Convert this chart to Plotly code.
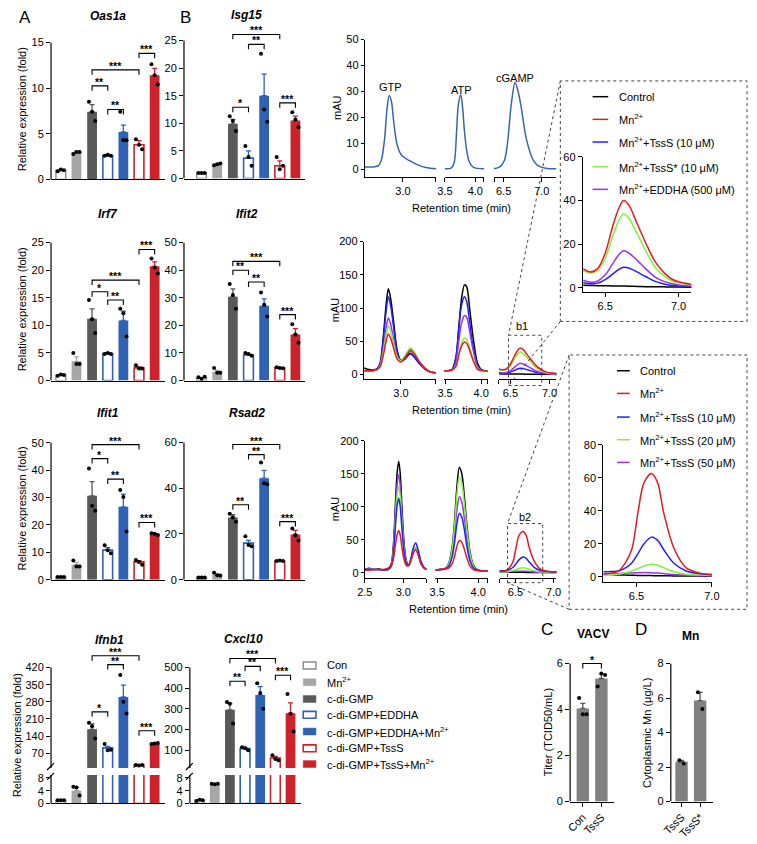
import plotly.graph_objects as go

W, H = 757, 844
FONT = "Liberation Sans, Arial, Helvetica, sans-serif"

# ---------------------------------------------------------------- data: qPCR bars
GROUPS = ["Con", "Mn<sup>2+</sup>", "c-di-GMP", "c-di-GMP+EDDHA",
          "c-di-GMP+EDDHA+Mn<sup>2+</sup>", "c-di-GMP+TssS", "c-di-GMP+TssS+Mn<sup>2+</sup>"]

OAS1A_MEAN = [1.0, 3.0, 7.4, 2.6, 5.2, 3.8, 11.4]
OAS1A_SEM = [0.1, 0.1, 0.8, 0.05, 0.75, 0.45, 0.75]
OAS1A_PTS = [[0.9, 1.1, 1.0], [2.8, 3.0, 3.0], [8.5, 7.4, 6.4], [2.6, 2.7, 2.6], [7.4, 4.3, 4.3], [4.4, 3.8, 3.3], [12.6, 11.4, 10.4]]
OAS1A_SIG = [(2, 5, 12.0, "***"), (2, 3, 10.25, "**"), (3, 4, 7.66, "**"), (5, 6, 13.8, "***")]

ISG15_MEAN = [1.0, 2.6, 9.9, 3.7, 15.0, 2.3, 10.5]
ISG15_SEM = [0.05, 0.1, 0.8, 1.3, 3.9, 0.9, 0.8]
ISG15_PTS = [[1.0, 1.0, 1.0], [2.4, 2.6, 2.7], [11.3, 10.4, 8.6], [5.9, 3.9, 2.3], [22.6, 12.5, 10.3], [3.9, 1.7, 2.3], [12.0, 10.7, 9.3]]
ISG15_SIG = [(2, 5, 26.1, "***"), (3, 4, 24.3, "**"), (2, 3, 12.9, "*"), (5, 6, 13.7, "***")]

IRF7_MEAN = [1.0, 3.5, 11.2, 4.9, 10.9, 2.3, 20.7]
IRF7_SEM = [0.1, 0.8, 1.8, 0.1, 1.7, 0.2, 0.8]
IRF7_PTS = [[0.9, 1.1, 1.0], [5.0, 3.0, 3.0], [14.6, 11.1, 8.6], [4.8, 5.0, 4.8], [13.0, 12.2, 8.0], [2.8, 2.2, 2.2], [22.1, 20.5, 19.4]]
IRF7_SIG = [(5, 6, 23.75, "***"), (2, 5, 18.2, "***"), (2, 3, 16.1, "*"), (3, 4, 14.6, "**")]

IFIT2_MEAN = [1.0, 3.2, 30.4, 9.3, 27.1, 4.6, 16.7]
IFIT2_SEM = [0.2, 0.5, 2.8, 0.3, 2.5, 0.1, 2.1]
IFIT2_PTS = [[1.2, 0.6, 1.4], [4.6, 2.8, 2.8], [35.0, 31.0, 26.0], [10.0, 9.6, 9.0], [31.9, 27.5, 23.2], [4.8, 4.6, 4.5], [20.4, 16.7, 13.7]]
IFIT2_SIG = [(2, 5, 43.2, "***"), (2, 3, 40.0, "**"), (3, 4, 35.7, "**"), (5, 6, 23.9, "***")]

IFIT1_MEAN = [1.0, 5.5, 30.6, 10.8, 26.6, 6.5, 16.6]
IFIT1_SEM = [0.1, 0.8, 5.2, 0.9, 4.6, 0.5, 0.2]
IFIT1_PTS = [[1.0, 1.0, 1.0], [7.0, 4.8, 4.8], [40.6, 27.0, 25.2], [12.6, 10.8, 9.7], [32.7, 30.2, 17.6], [7.2, 6.5, 5.5], [17.0, 16.8, 16.3]]
IFIT1_SIG = [(2, 5, 49.3, "***"), (2, 3, 44.2, "*"), (3, 4, 36.7, "**"), (5, 6, 20.9, "***")]

RSAD2_MEAN = [1.0, 2.2, 27.2, 16.0, 44.4, 8.2, 19.8]
RSAD2_SEM = [0.1, 0.4, 1.2, 1.2, 3.4, 0.1, 1.8]
RSAD2_PTS = [[1.0, 1.0, 1.0], [3.0, 2.0, 1.8], [28.9, 27.2, 25.4], [19.0, 15.2, 14.6], [51.3, 42.2, 41.8], [8.2, 8.4, 8.2], [22.4, 19.4, 17.2]]
RSAD2_SIG = [(2, 5, 59.1, "***"), (3, 4, 54.7, "**"), (2, 3, 32.8, "**"), (5, 6, 25.4, "***")]

IFNB1_MEAN = [1.0, 4.0, 168, 92, 300, 22, 110]
IFNB1_SEM = [0.1, 1.0, 22, 6, 48, 1.5, 3]
IFNB1_PTS = [[1.0, 1.0, 1.0], [5.2, 5.0, 2.5], [195, 180, 130], [108, 82, 85], [390, 280, 232], [22, 20, 22], [108, 110, 112]]
IFNB1_SIG = [(2, 5, 468, "***"), (3, 4, 432, "**"), (2, 3, 239, "*"), (5, 6, 162, "***")]

CXCL10_MEAN = [1.0, 6.1, 295, 108, 367, 62, 279]
CXCL10_SEM = [0.1, 0.1, 30, 5, 40, 8, 50]
CXCL10_PTS = [[0.8, 1.2, 1.0], [6.2, 6.0, 6.2], [333, 324, 229], [114, 110, 100], [424, 376, 300], [76, 57, 52], [371, 276, 190]]
CXCL10_SIG = [(2, 5, 543, "***"), (3, 4, 505, "**"), (2, 3, 433, "**"), (5, 6, 462, "***")]

# ---------------------------------------------------------------- data: panel C / D
C_GROUPS = ["Con", "TssS"]
C_MEAN = [4.05, 5.35]
C_SEM = [0.22, 0.2]
C_PTS = [[4.5, 3.8, 3.8], [5.0, 5.57, 5.5]]
D_GROUPS = ["TssS", "TssS*"]
D_MEAN = [2.3, 5.85]
D_SEM = [0.08, 0.48]
D_PTS = [[2.4, 2.2], [6.33, 5.37]]

# ---------------------------------------------------------------- data: HPLC traces (min, mAU)
TOP_GTP_T = [2.5, 2.62, 2.68, 2.72, 2.76, 2.79, 2.82, 2.85, 2.88, 2.92, 2.96, 3.0, 3.08, 3.18, 3.3, 3.44]
TOP_GTP_Y = [1, 1, 1.5, 4, 12, 23, 28.5, 26, 18, 10, 6.5, 5, 3.5, 2, 0.8, 0.3]
TOP_ATP_T = [3.5, 3.6, 3.65, 3.69, 3.72, 3.76, 3.79, 3.82, 3.86, 3.9, 3.97, 4.15]
TOP_ATP_Y = [0.3, 0.5, 2.5, 14, 25, 28.8, 24, 15, 7, 3, 0.8, 0.3]
TOP_CGAMP_T = [6.37, 6.45, 6.51, 6.55, 6.6, 6.65, 6.69, 6.73, 6.8, 6.89, 6.95, 7.05, 7.19]
TOP_CGAMP_Y = [0.3, 1, 3.5, 10, 25, 33.5, 30, 24, 11.5, 3.5, 1.5, 0.5, 0.3]

MID_T1 = [2.5, 2.55, 2.62, 2.68, 2.72, 2.76, 2.8, 2.83, 2.86, 2.9, 2.95, 3.0, 3.05, 3.1, 3.13, 3.18, 3.25, 3.33, 3.4, 3.47]
MID_CONTROL_1 = [10, 8, 7, 9, 18, 55, 105, 129, 115, 80, 36, 21, 24, 31, 32, 27, 17, 8, 4, 3]
MID_MN_1 = [6, 6, 6, 8, 12, 28, 50, 61, 55, 40, 23, 19, 25, 33, 36, 31, 19, 9, 4, 3]
MID_TSSS_1 = [6, 6, 6, 8, 16, 50, 95, 117, 104, 72, 33, 20, 23, 29, 31, 26, 16, 8, 4, 3]
MID_TSSSX_1 = [6, 6, 6, 8, 13, 33, 60, 73, 66, 47, 26, 21, 28, 37, 40, 34, 20, 10, 4, 3]
MID_EDDHA_1 = [6, 6, 6, 8, 14, 38, 70, 85, 76, 54, 28, 21, 26, 35, 38, 32, 19, 9, 4, 3]

MID_T2 = [3.49, 3.55, 3.6, 3.65, 3.69, 3.73, 3.77, 3.8, 3.84, 3.87, 3.91, 3.95, 4.0, 4.095]
MID_CONTROL_2 = [6, 6, 8, 25, 70, 115, 135, 132, 100, 72, 40, 17, 8, 5]
MID_MN_2 = [6, 6, 7, 12, 29, 43, 49, 47, 37, 27, 16, 8, 6, 5]
MID_TSSS_2 = [6, 6, 8, 25, 68, 105, 117, 110, 80, 55, 30, 13, 7, 5]
MID_TSSSX_2 = [6, 6, 7, 13, 32, 48, 55, 53, 41, 30, 18, 9, 6, 5]
MID_EDDHA_2 = [6, 6, 7, 18, 50, 78, 89, 86, 66, 47, 27, 12, 7, 5]

B1_T = [6.35, 6.40, 6.45, 6.5, 6.55, 6.59, 6.625, 6.66, 6.72, 6.78, 6.84, 6.9, 6.95, 7.0, 7.1]
B1_CONTROL = [1.2, 1.1, 1.0, 1.0, 0.9, 0.9, 0.9, 0.8, 0.7, 0.6, 0.6, 0.5, 0.4, 0.4, 0.3]
B1_MN = [8.7, 7.3, 9, 16, 28, 36, 40, 38, 29, 20, 12, 7, 4.2, 2.8, 1.5]
B1_TSSS = [2.4, 1.9, 2.2, 3.8, 6.3, 8.4, 9.5, 9.1, 7.2, 5, 3, 1.8, 1.2, 0.9, 0.6]
B1_TSSSX = [7.8, 6.8, 8, 13.5, 23.5, 30.5, 34, 32, 24.5, 16.5, 9.5, 5.5, 3.3, 2.2, 1.2]
B1_EDDHA = [3.5, 2.6, 3.2, 6, 11, 15, 17, 16, 12.5, 8.5, 5, 3, 2, 1.4, 1]

BOT_T1 = [2.5, 2.56, 2.62, 2.68, 2.74, 2.8, 2.84, 2.87, 2.9, 2.92, 2.94, 2.96, 2.98, 3.01, 3.04, 3.07, 3.1, 3.13, 3.16, 3.19, 3.23, 3.27, 3.31]
BOT_CONTROL_1 = [5, 7, 5, 6, 4, 6, 12, 40, 110, 152, 169, 150, 105, 45, 18, 12, 20, 33, 38, 30, 15, 7, 5]
BOT_MN_1 = [4, 4, 5, 5, 5, 7, 10, 20, 44, 58, 64, 57, 40, 20, 11, 11, 19, 30, 35, 28, 14, 7, 5]
BOT_T10_1 = [5, 5, 5, 5, 4, 5, 9, 27, 75, 102, 113, 100, 70, 32, 14, 12, 22, 38, 45, 36, 17, 8, 5]
BOT_T20_1 = [5, 5, 5, 5, 4, 5, 9, 31, 86, 118, 131, 116, 81, 36, 15, 11, 19, 32, 38, 30, 15, 7, 5]
BOT_T50_1 = [5, 6, 5, 5, 4, 5, 10, 35, 97, 134, 149, 132, 92, 40, 16, 11, 19, 31, 36, 29, 14, 7, 5]

BOT_T2 = [3.48, 3.55, 3.6, 3.64, 3.68, 3.71, 3.74, 3.77, 3.8, 3.83, 3.86, 3.9, 3.94, 4.0, 4.12]
BOT_CONTROL_2 = [4, 5, 6, 14, 37, 75, 130, 160, 150, 117, 75, 32, 12, 4, 3]
BOT_MN_2 = [4, 5, 6, 7, 13, 24, 40, 49, 46, 36, 23, 10, 5, 3, 3]
BOT_T10_2 = [4, 5, 6, 10, 23, 44, 74, 90, 84, 66, 42, 18, 8, 4, 3]
BOT_T20_2 = [4, 5, 6, 13, 34, 68, 118, 145, 136, 106, 68, 29, 11, 4, 3]
BOT_T50_2 = [4, 6, 7, 13, 29, 56, 95, 115, 107, 84, 54, 23, 9, 4, 3]

B2_T = [6.28, 6.33, 6.38, 6.43, 6.47, 6.51, 6.55, 6.6, 6.64, 6.68, 6.75, 6.83, 6.92, 7.0, 7.05]
B2_CONTROL = [1.5, 1.3, 1.1, 1.0, 0.9, 0.8, 0.8, 0.7, 0.6, 0.6, 0.5, 0.4, 0.4, 0.3, 0.3]
B2_MN = [1.5, 2.2, 3.4, 9, 17, 39, 57, 62.5, 57, 39, 17, 5.4, 2.2, 1.4, 1.2]
B2_T10 = [3, 3.2, 3.5, 5.5, 8.5, 14, 20, 24, 22, 16.5, 8, 3.5, 1.8, 1.2, 1.1]
B2_T20 = [1, 1.2, 1.5, 2.5, 3.5, 5, 6.5, 7.5, 7, 5.5, 3, 1.5, 1, 0.8, 0.8]
B2_T50 = [1.5, 1.7, 2, 2.2, 2.3, 2.4, 2.5, 2.4, 2.2, 1.9, 1.3, 0.9, 0.6, 0.5, 0.5]

INSET1_LABELS = ["Control", "Mn<sup>2+</sup>", "Mn<sup>2+</sup>+TssS (10 μM)",
                 "Mn<sup>2+</sup>+TssS* (10 μM)", "Mn<sup>2+</sup>+EDDHA (500 μM)"]
INSET2_LABELS = ["Control", "Mn<sup>2+</sup>", "Mn<sup>2+</sup>+TssS (10 μM)",
                 "Mn<sup>2+</sup>+TssS (20 μM)", "Mn<sup>2+</sup>+TssS (50 μM)"]

# ---------------------------------------------------------------- styles
C_BLACK, C_RED, C_BLUE, C_GREEN, C_PURPLE = "#000000", "#e8191f", "#1f1fff", "#7ff23a", "#9b30f0"
GREY_LINE, MN_FILL, GMP_FILL = "#8c8c8c", "#a6a6a6", "#595959"
BLUE, RED = "#2f62b3", "#cc2229"
BAR_STYLE = [("white", GREY_LINE, 1.4), (MN_FILL, MN_FILL, 0), (GMP_FILL, GMP_FILL, 0),
             ("white", BLUE, 1.6), (BLUE, BLUE, 0), ("white", RED, 1.6), (RED, RED, 0)]
ERR_COL = [GREY_LINE, MN_FILL, GMP_FILL, BLUE, BLUE, RED, RED]

fig = go.Figure()
axes, shapes, annots = {}, [], []
count = [0]


def fx(px):
    return px / W


def fy(py):
    return 1 - py / H


def make_axes(xdom, ydom, xrange, yrange, xo=None, yo=None):
    count[0] += 1
    s = "" if count[0] == 1 else str(count[0])
    base = dict(showgrid=False, zeroline=False, showline=False, ticks="", showticklabels=False,
                linecolor="black", linewidth=1.2, tickcolor="black", tickwidth=1.2, ticklen=4,
                tickfont=dict(family=FONT, size=11, color="black"), fixedrange=True)
    xa = dict(base, domain=[fx(xdom[0]), fx(xdom[1])], range=list(xrange), anchor="y" + s)
    ya = dict(base, domain=[fy(ydom[1]), fy(ydom[0])], range=list(yrange), anchor="x" + s)
    if xo:
        xa.update(xo)
    if yo:
        ya.update(yo)
    axes["xaxis" + s] = xa
    axes["yaxis" + s] = ya
    return "x" + s, "y" + s


def text(x, y, t, size=11, xanchor="center", yanchor="middle", angle=0, color="black"):
    annots.append(dict(x=fx(x), y=fy(y), xref="paper", yref="paper", text=t, showarrow=False,
                       xanchor=xanchor, yanchor=yanchor, textangle=angle,
                       font=dict(family=FONT, size=size, color=color)))


def pline(x0, y0, x1, y1, color="black", width=1.2, dash="solid"):
    shapes.append(dict(type="line", xref="paper", yref="paper", x0=fx(x0), y0=fy(y0), x1=fx(x1),
                       y1=fy(y1), line=dict(color=color, width=width, dash=dash)))


def prect(x0, y0, x1, y1, fill="rgba(0,0,0,0)", color="black", width=1.0, dash="solid"):
    shapes.append(dict(type="rect", xref="paper", yref="paper", x0=fx(x0), y0=fy(y1), x1=fx(x1),
                       y1=fy(y0), fillcolor=fill, line=dict(color=color, width=width, dash=dash)))


JITTER = {2: [-0.12, 0.12], 3: [-0.2, 0.0, 0.2]}


def bar_panel(mean, sem, pts, sig, xdom, c0, step, bottom_px, ppu, ylow, ytop, tickvals, axis_top,
              show_xline=True, groups=None, styles=None, errc=None, barpx=10.0, xlabels=False):
    groups = groups or GROUPS
    styles = styles or BAR_STYLE
    errc = errc or ERR_COL
    xr = ((xdom[0] - c0) / step, (xdom[1] - c0) / step)
    top_px = bottom_px - (ytop - ylow) * ppu
    xo = dict(showline=show_xline)
    if xlabels:
        xo.update(ticks="outside", showticklabels=True, tickvals=list(range(len(groups))),
                  ticktext=groups, tickangle=-45)
    xa, ya = make_axes(xdom, (top_px, bottom_px), xr, (ylow, ytop), xo=xo,
                       yo=dict(ticks="outside", showticklabels=True, tickvals=tickvals))
    w = barpx / step
    for i, g in enumerate(groups):
        if mean[i] <= ylow:
            continue  # bar lies entirely below this axis segment
        fill, lc, lw = styles[i]
        err_visible = mean[i] < ytop
        fig.add_trace(go.Bar(x=[i], y=[mean[i]], width=w, name=g, showlegend=False,
                             marker=dict(color=fill, line=dict(color=lc, width=lw)),
                             error_y=dict(type="data", array=[sem[i]], arrayminus=[0], symmetric=False,
                                          color=errc[i], thickness=1.3, width=2.5,
                                          visible=err_visible),
                             xaxis=xa, yaxis=ya, hoverinfo="skip"))
    xs, ys = [], []
    for i, p in enumerate(pts):
        for o, v in zip(JITTER[len(p)], p):
            if ylow <= v <= ytop:
                xs.append(i + o)
                ys.append(v)
    fig.add_trace(go.Scatter(x=xs, y=ys, mode="markers", marker=dict(color="black", size=4),
                             xaxis=xa, yaxis=ya, showlegend=False, hoverinfo="skip"))
    shapes.append(dict(type="line", xref=xa + " domain", yref=ya, x0=0, x1=0, y0=ylow, y1=axis_top,
                       line=dict(color="black", width=1.2)))
    if sig:
        d = 5.0 / ppu
        for (i, j, y, lab) in sig:
            shapes.append(dict(type="path", xref=xa, yref=ya,
                               path=f"M {i},{y - d} L {i},{y} L {j},{y} L {j},{y - d}",
                               line=dict(color="black", width=1.1)))
            annots.append(dict(x=(i + j) / 2, y=y, xref=xa, yref=ya, text=f"<b>{lab}</b>",
                               showarrow=False, yanchor="bottom", yshift=-4,
                               font=dict(family=FONT, size=10.5, color="black")))
    return xa, ya


def seg_ticks(xr, labelled, first, last):
    vals = list(labelled)
    txt = [f"{v:.1f}" for v in labelled]
    pad = 0.004 * (xr[1] - xr[0])
    if not first and all(abs(v - xr[0]) > 0.03 for v in labelled):
        vals.append(xr[0] + pad)
        txt.append("")
    if not last and all(abs(v - xr[1]) > 0.03 for v in labelled):
        vals.append(xr[1] - pad)
        txt.append("")
    return vals, txt


def chrom(ydom, yrange, yticks, segs, series, width=1.5):
    n = len(segs)
    for k, (xdom, xr, xt) in enumerate(segs):
        if k == 0:
            yo = dict(showline=True, ticks="outside", showticklabels=True, tickvals=yticks, ticklen=3)
        else:
            yo = dict(visible=False)
        tv, tt = seg_ticks(xr, xt, k == 0, k == n - 1)
        xa, ya = make_axes(xdom, ydom, xr, yrange,
                           xo=dict(showline=True, ticks="outside", showticklabels=True, tickvals=tv,
                                   ticktext=tt), yo=yo)
        for color, data in series:
            t, y = data[k]
            fig.add_trace(go.Scatter(x=t, y=y, mode="lines", xaxis=xa, yaxis=ya, showlegend=False,
                                     line=dict(color=color, width=width, shape="spline", smoothing=0.9),
                                     hoverinfo="skip"))


def inset(xdom, ydom, xr, yr, yticks, series):
    xa, ya = make_axes(xdom, ydom, xr, yr,
                       xo=dict(showline=True, ticks="outside", showticklabels=True, tickvals=[6.5, 7.0],
                               tickformat=".1f"),
                       yo=dict(showline=True, ticks="outside", showticklabels=True, tickvals=yticks))
    for color, t, y in series:
        fig.add_trace(go.Scatter(x=t, y=y, mode="lines", xaxis=xa, yaxis=ya, showlegend=False,
                                 line=dict(color=color, width=1.5, shape="spline", smoothing=0.9),
                                 hoverinfo="skip"))


# ---------------------------------------------------------------- panel A / B bars
A_X, B_X = (43, 160), (179, 303)
bar_panel(OAS1A_MEAN, OAS1A_SEM, OAS1A_PTS, OAS1A_SIG, A_X, 53, 16, 176, 9.27, 0, 15.0, [0, 5, 10, 15], 15)
bar_panel(ISG15_MEAN, ISG15_SEM, ISG15_PTS, ISG15_SIG, B_X, 197, 16, 175, 5.6, 0, 27.0, [0, 5, 10, 15, 20, 25], 25)
bar_panel(IRF7_MEAN, IRF7_SEM, IRF7_PTS, IRF7_SIG, A_X, 53, 16, 380, 5.6, 0, 25.0, [0, 5, 10, 15, 20, 25], 25)
bar_panel(IFIT2_MEAN, IFIT2_SEM, IFIT2_PTS, IFIT2_SIG, B_X, 197, 16, 380, 2.8, 0, 50.0, [0, 10, 20, 30, 40, 50], 50)
bar_panel(IFIT1_MEAN, IFIT1_SEM, IFIT1_PTS, IFIT1_SIG, A_X, 53, 16, 582, 2.78, 0, 52.0, [0, 10, 20, 30, 40, 50], 50)
bar_panel(RSAD2_MEAN, RSAD2_SEM, RSAD2_PTS, RSAD2_SIG, B_X, 197, 16, 582, 2.32, 0, 62.0, [0, 20, 40, 60], 60)
# broken axes
bar_panel(IFNB1_MEAN, IFNB1_SEM, IFNB1_PTS, IFNB1_SIG, A_X, 53, 16, 773, 0.2486, 10, 490,
          [70, 140, 210, 280, 350, 420], 420, show_xline=False)
bar_panel(IFNB1_MEAN, IFNB1_SEM, IFNB1_PTS, None, A_X, 53, 16, 809, 3.25, 0, 8.9, [0, 4, 8], 8.9)
bar_panel(CXCL10_MEAN, CXCL10_SEM, CXCL10_PTS, CXCL10_SIG, (185, 299), 195, 15.5, 773, 0.21, 14, 560,
          [100, 200, 300, 400, 500], 500, show_xline=False)
bar_panel(CXCL10_MEAN, CXCL10_SEM, CXCL10_PTS, None, (185, 299), 195, 15.5, 809, 3.25, 0, 8.9, [0, 4, 8], 8.9)
for xa in (43, 185):
    pline(xa - 4, 775, xa + 3, 768)
    pline(xa - 4, 785, xa + 3, 778)

# titles / labels
text(8, 12, "A", size=17, xanchor="left")
text(173, 12, "B", size=17, xanchor="left")
for x, y, t in [(101, 10, "Oas1a"), (243, 9, "Isg15"), (101, 211, "Irf7"), (243, 211, "Ifit2"),
                (101, 413, "Ifit1"), (243, 413, "Rsad2"), (103, 643, "Ifnb1"), (240, 642, "Cxcl10")]:
    text(x, y, f"<b><i>{t}</i></b>", size=12)
for x, y in ((13, 105), (13, 308), (13, 510), (9, 740)):
    text(x, y, "Relative expression (fold)", size=11, angle=-90)

# legend for bars
LEG_Y = [669, 686, 703, 719, 736, 753, 769]
for i, g in enumerate(GROUPS):
    fill, lc, lw = BAR_STYLE[i]
    prect(301, LEG_Y[i] - 3.5, 314, LEG_Y[i] + 3.5, fill=fill, color=lc if lw else fill, width=lw if lw else 0.5)
    text(323, LEG_Y[i], g, size=11, xanchor="left")

# ---------------------------------------------------------------- HPLC panels
chrom((34, 173), (-2.7, 50), [0, 10, 20, 30, 40, 50],
      [((364, 437), (2.5, 3.436), [3.0]), ((446, 486), (3.5, 4.145), [3.5, 4.0]),
       ((496, 560), (6.372, 7.192), [6.5, 7.0])],
      [("#3565b8", [(TOP_GTP_T, TOP_GTP_Y), (TOP_ATP_T, TOP_ATP_Y), (TOP_CGAMP_T, TOP_CGAMP_Y)])])
text(390, 82, "GTP")
text(463, 85, "ATP")
text(518, 73, "cGAMP")
text(463, 205, "Retention time (min)")
text(335, 103, "mAU", angle=-90)

mid_series = [
    (C_BLACK, [(MID_T1, MID_CONTROL_1), (MID_T2, MID_CONTROL_2), (B1_T, B1_CONTROL)]),
    (C_BLUE, [(MID_T1, MID_TSSS_1), (MID_T2, MID_TSSS_2), (B1_T, B1_TSSS)]),
    (C_PURPLE, [(MID_T1, MID_EDDHA_1), (MID_T2, MID_EDDHA_2), (B1_T, B1_EDDHA)]),
    (C_GREEN, [(MID_T1, MID_TSSSX_1), (MID_T2, MID_TSSSX_2), (B1_T, B1_TSSSX)]),
    (C_RED, [(MID_T1, MID_MN_1), (MID_T2, MID_MN_2), (B1_T, B1_MN)]),
]
chrom((239, 378), (-6, 200), [0, 50, 100, 150, 200],
      [((363, 437), (2.5, 3.474), [3.0]), ((445, 490), (3.486, 4.095), [3.5, 4.0]),
       ((501, 560), (6.35, 7.0875), [6.5, 7.0])], mid_series)
text(463, 410, "Retention time (min)")
text(333, 308, "mAU", angle=-90)

bot_series = [
    (C_BLACK, [(BOT_T1, BOT_CONTROL_1), (BOT_T2, BOT_CONTROL_2), (B2_T, B2_CONTROL)]),
    (C_PURPLE, [(BOT_T1, BOT_T50_1), (BOT_T2, BOT_T50_2), (B2_T, B2_T50)]),
    (C_GREEN, [(BOT_T1, BOT_T20_1), (BOT_T2, BOT_T20_2), (B2_T, B2_T20)]),
    (C_BLUE, [(BOT_T1, BOT_T10_1), (BOT_T2, BOT_T10_2), (B2_T, B2_T10)]),
    (C_RED, [(BOT_T1, BOT_MN_1), (BOT_T2, BOT_MN_2), (B2_T, B2_MN)]),
]
chrom((441, 580), (-7.5, 200), [0, 50, 100, 150, 200],
      [((364, 427), (2.5, 3.3), [2.5, 3.0]), ((436, 490), (3.476, 4.119), [3.5, 4.0]),
       ((502, 560), (6.295, 7.038), [6.5, 7.0])], bot_series)
text(460, 612, "Retention time (min)")
text(333, 510, "mAU", angle=-90)

# zoom boxes and connectors
prect(511, 334, 545, 385, color="#444", width=1, dash="dot")
text(525, 325, "b1")
prect(510, 525, 546, 585, color="#444", width=1, dash="dot")
text(528, 518, "b2")
prect(564, 76, 755, 320, color="#444", width=1, dash="dot")
prect(573, 354, 755, 612, color="#444", width=1, dash="dot")
pline(564, 76, 511, 334, color="#444", width=1, dash="dot")
pline(564, 320, 511, 385, color="#444", width=1, dash="dot")
pline(573, 354, 510, 525, color="#444", width=1, dash="dot")
pline(573, 612, 510, 585, color="#444", width=1, dash="dot")

# insets
inset((587, 698), (153, 290), (6.347, 7.087), (-1.8, 60), [0, 20, 40, 60],
      [(C_BLACK, B1_T, B1_CONTROL), (C_BLUE, B1_T, B1_TSSS), (C_PURPLE, B1_T, B1_EDDHA),
       (C_GREEN, B1_T, B1_TSSSX), (C_RED, B1_T, B1_MN)])
inset((608, 719), (445, 584), (6.28, 7.0), (-3, 80), [0, 20, 40, 60, 80],
      [(C_BLACK, B2_T, B2_CONTROL), (C_PURPLE, B2_T, B2_T50), (C_GREEN, B2_T, B2_T20),
       (C_BLUE, B2_T, B2_T10), (C_RED, B2_T, B2_MN)])
LEG_COLORS = [C_BLACK, C_RED, C_BLUE, C_GREEN, C_PURPLE]
for lab, col, y in zip(INSET1_LABELS, LEG_COLORS, [92, 115, 138, 163, 186]):
    pline(597, y, 613, y, color=col, width=1.5)
    text(622, y, lab, xanchor="left")
for lab, col, y in zip(INSET2_LABELS, LEG_COLORS, [370, 393, 417, 440, 463]):
    pline(622, y, 635, y, color=col, width=1.5)
    text(643, y, lab, xanchor="left")

# ---------------------------------------------------------------- panel C / D
GREY = "#808080"
bar_panel(C_MEAN, C_SEM, C_PTS, [(0, 1, 6.0, "*")], (574, 619), 587, 19, 807, 23.33, 0, 6.7,
          [0, 2, 4, 6], 6, groups=C_GROUPS, styles=[(GREY, GREY, 0)] * 2, errc=["#555"] * 2,
          barpx=12.7, xlabels=True)
bar_panel(D_MEAN, D_SEM, D_PTS, None, (677, 720), 688, 19, 807, 17.5, 0, 8.0,
          [0, 2, 4, 6, 8], 8, groups=D_GROUPS, styles=[(GREY, GREY, 0)] * 2, errc=["#555"] * 2,
          barpx=12.7, xlabels=True)
text(550, 632, "C", size=17)
text(597, 637, "<b>VACV</b>", size=12)
text(647, 632, "D", size=17)
text(697, 639, "<b>Mn</b>", size=12)
text(551, 737, "Titer (TCID50/mL)", angle=-90)
text(652, 737, "Cytoplasmic Mn (μg/L)", angle=-90)

fig.update_layout(width=W, height=H, margin=dict(l=0, r=0, t=0, b=0), paper_bgcolor="white",
                  plot_bgcolor="rgba(0,0,0,0)", barmode="overlay", showlegend=False,
                  font=dict(family=FONT, size=11, color="black"), shapes=shapes, annotations=annots,
                  **axes)
fig.write_html("out.html", config={"displayModeBar": False},
               post_script="document.body.style.margin='0';document.body.style.overflow='hidden';")
